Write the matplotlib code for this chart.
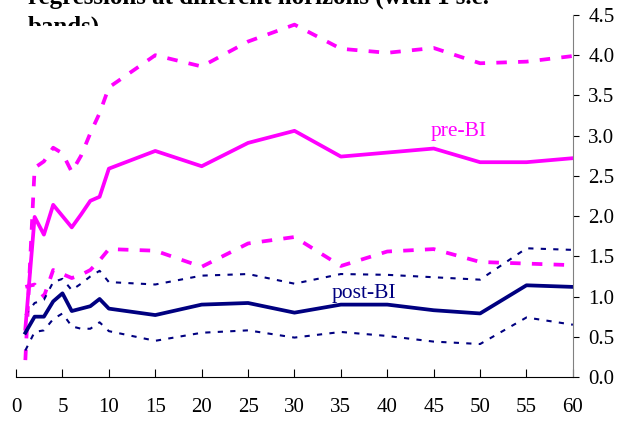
import numpy as np
import matplotlib.pyplot as plt
from matplotlib.transforms import Bbox

plt.rcParams['font.family'] = ['Liberation Serif', 'DejaVu Serif']

# horizons and estimates
h = [1, 2, 3, 4, 5, 6, 7, 8, 9, 10, 15, 20, 25, 30, 35, 40, 45, 50, 55, 60]
pre = [0.60, 1.99, 1.77, 2.14, 2.00, 1.86, 2.02, 2.19, 2.24, 2.59, 2.81, 2.62,
       2.91, 3.06, 2.74, 2.79, 2.84, 2.67, 2.67, 2.72]
pre_hi = [0.21, 2.60, 2.68, 2.85, 2.78, 2.55, 2.75, 3.03, 3.28, 3.60, 4.00, 3.86,
          4.17, 4.38, 4.08, 4.03, 4.09, 3.90, 3.92, 3.99]
pre_lo = [1.12, 1.15, 1.00, 1.33, 1.28, 1.23, 1.27, 1.33, 1.45, 1.59, 1.57, 1.37,
          1.66, 1.74, 1.38, 1.56, 1.59, 1.43, 1.41, 1.39]
post = [0.55, 0.75, 0.75, 0.94, 1.04, 0.82, 0.85, 0.88, 0.97, 0.85, 0.77, 0.90,
        0.92, 0.80, 0.90, 0.90, 0.83, 0.79, 1.14, 1.12]
post_hi = [0.77, 0.92, 0.96, 1.18, 1.22, 1.08, 1.16, 1.25, 1.32, 1.18, 1.15, 1.26,
           1.28, 1.16, 1.28, 1.27, 1.24, 1.21, 1.60, 1.58]
post_lo = [0.33, 0.56, 0.58, 0.72, 0.79, 0.63, 0.60, 0.60, 0.68, 0.57, 0.45, 0.55,
           0.58, 0.49, 0.56, 0.51, 0.44, 0.41, 0.74, 0.65]

mag = '#FF00FF'
navy = '#000080'

fig = plt.figure(figsize=(6.18, 4.21), dpi=100)
ax = fig.add_axes([0.026, 0.1045, 0.901, 0.8599])

ax.plot(h, pre_hi, color=mag, lw=2.7, ls=(0, (2.8, 3.0)))
ax.plot(h, pre_lo, color=mag, lw=2.7, ls=(0, (2.8, 3.0)))
ax.plot(h, post_hi, color=navy, lw=1.5, ls=(0, (2.5, 3.5)))
ax.plot(h, post_lo, color=navy, lw=1.5, ls=(0, (2.5, 3.5)))
ax.plot(h, pre, color=mag, lw=2.7)
ax.plot(h, post, color=navy, lw=2.7)

ax.text(47.7, 3.0, 'pre-BI', color=mag, fontsize=15.5, ha='center', va='baseline')
ax.text(37.5, 0.98, 'post-BI', color=navy, fontsize=15.5, ha='center', va='baseline')

ax.set_xlim(0, 60)
ax.set_ylim(0, 4.5)
ax.set_xticks(range(0, 61, 5))
ax.set_yticks(np.arange(0, 4.51, 0.5))
ax.set_yticklabels(['%.1f' % v for v in np.arange(0, 4.51, 0.5)])
ax.yaxis.tick_right()
ax.tick_params(axis='x', direction='in', length=6, pad=15, labelsize=15)
ax.tick_params(axis='y', direction='out', length=4.5, pad=6.5, labelsize=15)
ax.spines['top'].set_visible(False)
ax.spines['left'].set_visible(False)
ax.spines['right'].set_color('#808080')
ax.patch.set_alpha(0)

fig.text(0.045, 1 - 4 / 421, 'regressions at different horizons (with 1 s.e.',
         fontsize=18, fontweight='bold', ha='left', va='baseline')
t = fig.text(0.045, 1 - 34 / 421, 'bands)', fontsize=18, fontweight='bold',
             ha='left', va='baseline')
t.set_clip_box(Bbox([[0, 421 - 26], [618, 421]]))
t.set_clip_on(True)

fig.savefig('out.png', dpi=100)
